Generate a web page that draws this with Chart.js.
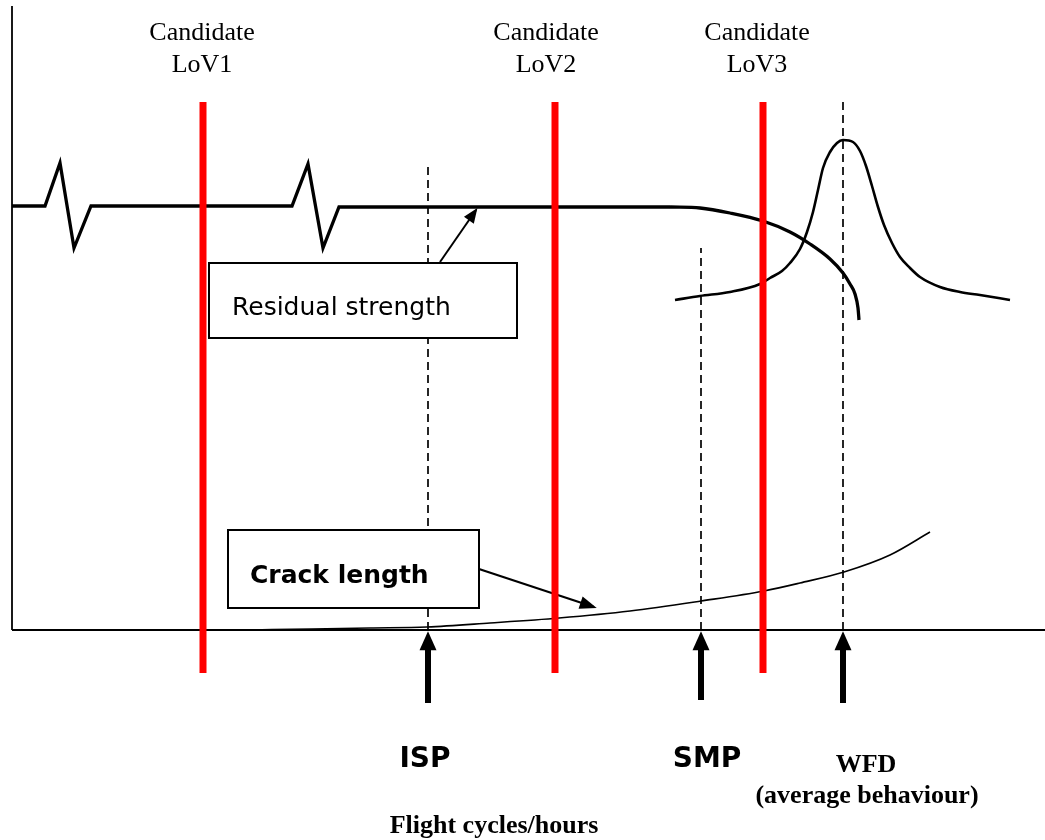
<!DOCTYPE html>
<html><head><meta charset="utf-8">
<script src="https://cdn.jsdelivr.net/npm/chart.js@4/dist/chart.umd.min.js"></script>
<style>html,body{margin:0;padding:0;background:#fff;}#wrap{width:1045px;height:840px;}canvas{display:block;}</style>
</head><body><div id="wrap"><canvas id="c" width="1045" height="840"></canvas></div>
<script>
// ---- Data (arbitrary units: x = flight cycles/hours, y = magnitude) ----
const lovLabels = ['LoV1', 'LoV2', 'LoV3'];
const lovPositions = [191, 543, 751];
const lovExtent = [-43, 528];

const markerNames = ['ISP', 'SMP', 'WFD'];
const markerPositions = [416, 689, 831];
const markerTops = [465, 382, 528];
const markerArrowTails = [-73, -70, -73];
const markerArrowEnds = [-8, -8, -8];

const residualZigzagX = [0, 33, 48, 62, 79, 280, 296, 311, 327, 658];
const residualZigzagY = [424, 424, 467, 382, 424, 424, 466, 382, 423, 423];
const residualDropX = [658, 688, 718, 751, 778, 798, 818, 831, 838, 843, 846, 847];
const residualDropY = [423, 422, 417, 409, 398, 386, 371, 357, 346, 336, 322, 310];

const wfdDistX = [663, 688, 718, 748, 758, 770, 778, 788, 795, 801, 806, 811, 818, 825, 831, 841, 848, 854, 860, 866, 872, 880, 888, 898, 908, 928, 948, 968, 998];
const wfdDistY = [330, 334, 338, 346, 352, 359, 367, 381, 398, 418, 440, 462, 478, 487, 490, 488, 479, 464, 444, 423, 405, 387, 373, 362, 353, 343, 338, 335, 330];

const crackX = [240, 300, 358, 415, 478, 547, 618, 689, 752, 788, 832, 878, 918];
const crackY = [0, 1, 2, 3, 7, 12, 19, 29, 39, 47, 58, 75, 98];

const residualArrowX = [428, 464];
const residualArrowY = [368, 420];
const crackArrowX = [467, 582];
const crackArrowY = [61, 23];

const axisXRange = [0, 1033];
const axisYRange = [0, 624];

const residualLabel = 'Residual strength';
const crackLabel = 'Crack length';
const candidateWord = 'Candidate';
const wfdSubLabel = '(average behaviour)';
const xAxisTitle = 'Flight cycles/hours';

// ---- Build datasets ----
const zip = (xs, ys) => xs.map((x, i) => ({x, y: ys[i]}));
const base = {showLine: true, pointRadius: 0, pointHoverRadius: 0, clip: false, fill: false, tension: 0};
const datasets = [];

lovPositions.forEach((x, i) => datasets.push(Object.assign({}, base, {
  label: lovLabels[i], data: [{x, y: lovExtent[0]}, {x, y: lovExtent[1]}],
  borderColor: '#ff0000', borderWidth: 7, borderCapStyle: 'butt', order: 1
})));

markerPositions.forEach((x, i) => {
  datasets.push(Object.assign({}, base, {
    label: markerNames[i] + ' line', data: [{x, y: 0}, {x, y: markerTops[i]}],
    borderColor: '#000', borderWidth: 1.7, borderDash: [8, 5], order: 4
  }));
  datasets.push(Object.assign({}, base, {
    label: markerNames[i] + ' arrow', data: [{x, y: markerArrowTails[i]}, {x, y: markerArrowEnds[i]}],
    borderColor: '#000', borderWidth: 6, borderCapStyle: 'butt', order: 2,
    arrowHead: {length: 19, width: 17}
  }));
});

datasets.push(Object.assign({}, base, {label: 'Residual strength', data: zip(residualZigzagX, residualZigzagY),
  borderColor: '#000', borderWidth: 3.3, borderJoinStyle: 'miter', order: 2}));
datasets.push(Object.assign({}, base, {label: 'Residual strength drop', data: zip(residualDropX, residualDropY),
  borderColor: '#000', borderWidth: 3.3, cubicInterpolationMode: 'monotone', order: 2}));
datasets.push(Object.assign({}, base, {label: 'WFD distribution', data: zip(wfdDistX, wfdDistY),
  borderColor: '#000', borderWidth: 2.6, cubicInterpolationMode: 'monotone', order: 2}));
datasets.push(Object.assign({}, base, {label: 'Crack length', data: zip(crackX, crackY),
  borderColor: '#000', borderWidth: 1.6, cubicInterpolationMode: 'monotone', order: 2}));
datasets.push(Object.assign({}, base, {label: 'Residual arrow', data: zip(residualArrowX, residualArrowY),
  borderColor: '#000', borderWidth: 2, order: 2, arrowHead: {length: 15, width: 12}}));
datasets.push(Object.assign({}, base, {label: 'Crack arrow', data: zip(crackArrowX, crackArrowY),
  borderColor: '#000', borderWidth: 2.2, order: 2, arrowHead: {length: 17, width: 13}}));
datasets.push(Object.assign({}, base, {label: 'x axis', data: [{x: axisXRange[0], y: 0}, {x: axisXRange[1], y: 0}],
  borderColor: '#000', borderWidth: 1.8, order: 5}));
datasets.push(Object.assign({}, base, {label: 'y axis', data: [{x: 0, y: axisYRange[0]}, {x: 0, y: axisYRange[1]}],
  borderColor: '#000', borderWidth: 1.8, order: 5}));

// ---- Annotation layout (positions in data units) ----
const serif = '"Liberation Serif", "Times New Roman", serif';
const sans = '"DejaVu Sans", Verdana, sans-serif';
const boxes = [
  {x0: 197, x1: 505, y0: 292, y1: 367},
  {x0: 216, x1: 467, y0: 22, y1: 100}
];
const texts = [];
lovLabels.forEach((l, i) => {
  const cx = [190, 534, 745][i];
  texts.push({t: candidateWord, x: cx, y: 590, font: '26px ' + serif, align: 'center'});
  texts.push({t: l, x: cx, y: 558, font: '26px ' + serif, align: 'center'});
});
texts.push({t: residualLabel, x: 220, y: 315, font: '25px ' + sans, align: 'left'});
texts.push({t: crackLabel, x: 238, y: 47, font: 'bold 25px ' + sans, align: 'left'});
texts.push({t: markerNames[0], x: 413, y: -137, font: 'bold 28px ' + sans, align: 'center'});
texts.push({t: markerNames[1], x: 695, y: -137, font: 'bold 28px ' + sans, align: 'center'});
texts.push({t: markerNames[2], x: 854, y: -142, font: 'bold 26px ' + serif, align: 'center'});
texts.push({t: wfdSubLabel, x: 855, y: -173, font: 'bold 26px ' + serif, align: 'center'});
texts.push({t: xAxisTitle, x: 482, y: -203, font: 'bold 26px ' + serif, align: 'center'});

const overlayPlugin = {
  id: 'overlay',
  afterDatasetsDraw(chart) {
    const ctx = chart.ctx, sx = chart.scales.x, sy = chart.scales.y;
    ctx.save();
    boxes.forEach(b => {
      const x0 = sx.getPixelForValue(b.x0), x1 = sx.getPixelForValue(b.x1);
      const y0 = sy.getPixelForValue(b.y1), y1 = sy.getPixelForValue(b.y0);
      ctx.fillStyle = '#fff'; ctx.fillRect(x0, y0, x1 - x0, y1 - y0);
      ctx.strokeStyle = '#000'; ctx.lineWidth = 2; ctx.strokeRect(x0, y0, x1 - x0, y1 - y0);
    });
    chart.data.datasets.forEach((ds, i) => {
      if (!ds.arrowHead) return;
      const pts = chart.getDatasetMeta(i).data;
      const a = pts[pts.length - 2], b = pts[pts.length - 1];
      const dx = b.x - a.x, dy = b.y - a.y, d = Math.hypot(dx, dy);
      const ux = dx / d, uy = dy / d;
      const L = ds.arrowHead.length, W = ds.arrowHead.width;
      const off = ds.borderWidth * L / W;
      const tx = b.x + ux * off, ty = b.y + uy * off;
      const bx = tx - ux * L, by = ty - uy * L;
      ctx.fillStyle = ds.borderColor;
      ctx.beginPath();
      ctx.moveTo(tx, ty);
      ctx.lineTo(bx - uy * W / 2, by + ux * W / 2);
      ctx.lineTo(bx + uy * W / 2, by - ux * W / 2);
      ctx.closePath(); ctx.fill();
    });
    ctx.fillStyle = '#000'; ctx.textBaseline = 'alphabetic';
    texts.forEach(t => {
      ctx.font = t.font; ctx.textAlign = t.align;
      ctx.fillText(t.t, sx.getPixelForValue(t.x), sy.getPixelForValue(t.y));
    });
    ctx.restore();
  }
};

new Chart(document.getElementById('c'), {
  type: 'scatter',
  data: {datasets},
  options: {
    responsive: false, devicePixelRatio: 1, animation: false,
    layout: {padding: {left: 12, top: 5, right: 0, bottom: 0}},
    scales: {
      x: {type: 'linear', min: 0, max: 1033, display: false},
      y: {type: 'linear', min: -210, max: 625, display: false}
    },
    plugins: {legend: {display: false}, tooltip: {enabled: false}, title: {display: false}}
  },
  plugins: [overlayPlugin]
});
</script>
</body></html>
